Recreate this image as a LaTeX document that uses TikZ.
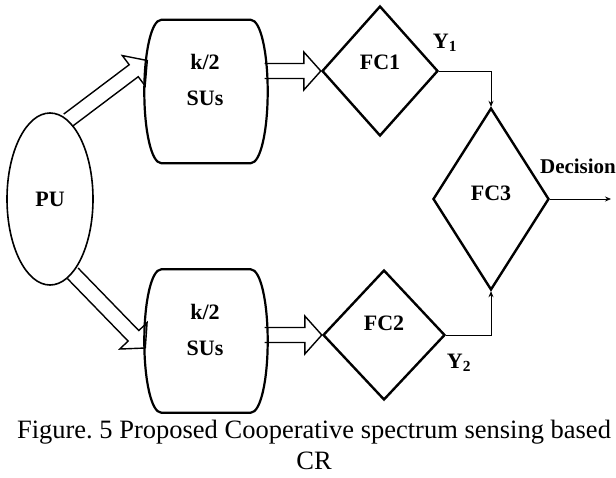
\documentclass[tikz,border=0pt]{standalone}
\usepackage{fontspec}
\setmainfont{Liberation Serif}
\usetikzlibrary{shapes.geometric,calc,arrows.meta}

\newcommand{\fatarrow}[2]{%
  \draw[fat] ($(#1)!7.5pt!90:(#2)$)
    -- ($($(#2)!17pt!(#1)$)!7.5pt!90:(#2)$)
    -- ($($(#2)!17pt!(#1)$)!19pt!90:(#2)$)
    -- (#2)
    -- ($($(#2)!17pt!(#1)$)!19pt!-90:(#2)$)
    -- ($($(#2)!17pt!(#1)$)!7.5pt!-90:(#2)$)
    -- ($(#1)!7.5pt!-90:(#2)$);}

\newcommand{\barrel}[1]{%
  \draw[box] ($(#1.north west)+(17,0)$) -- ($(#1.north east)+(-17,0)$)
    .. controls ($(#1.north east)+(-7,0)$) and ($(#1.east)+(0,39)$) .. (#1.east)
    .. controls ($(#1.east)+(0,-39)$) and ($(#1.south east)+(-7,0)$) .. ($(#1.south east)+(-17,0)$)
    -- ($(#1.south west)+(17,0)$)
    .. controls ($(#1.south west)+(7,0)$) and ($(#1.west)+(0,-39)$) .. (#1.west)
    .. controls ($(#1.west)+(0,39)$) and ($(#1.north west)+(7,0)$) .. cycle;}

\tikzset{
  lbl/.style={font=\fontsize{22}{26}\selectfont\bfseries, inner sep=0pt},
  captext/.style={font=\fontsize{26.5}{30}\selectfont, inner sep=0pt},
  box/.style={line width=2.2pt},
  fat/.style={line width=1.4pt, line join=miter},
  diam/.style={diamond, draw, line width=2.4pt, inner sep=0pt},
  sunit/.style={rectangle, inner sep=0pt, minimum width=123, minimum height=143},
  conn/.style={line width=0.8pt, -{Stealth[length=6pt,width=5pt]}}
}

\begin{document}
\frenchspacing
\begin{tikzpicture}[x=1pt,y=1pt]
	\useasboundingbox (0,0) rectangle (616,-477);
	\node[ellipse, draw, line width=1.6pt, minimum width=86, minimum height=172, lbl] (pu) at (50,-199) {PU};
	\node[sunit] (su1) at (206,-91.5) {};
	\node[sunit] (su2) at (206,-341) {};
	\barrel{su1}
	\barrel{su2}
	\node[lbl] (k1) at (205,-62) {k/2};
	\node[lbl] (s1) at (205,-98) {SUs};
	\node[lbl] (k2) at (205,-312) {k/2};
	\node[lbl] (s2) at (205,-348) {SUs};
	\node[diam, minimum width=116, minimum height=130] (fc1) at (380,-71) {};
	\node[diam, minimum width=122, minimum height=130] (fc2) at (384,-335) {};
	\node[diam, minimum width=116, minimum height=182] (fc3) at (491,-199) {};
	\node[lbl] (f1) at (380,-62) {FC1};
	\node[lbl] (f2) at (384,-323) {FC2};
	\node[lbl] (f3) at (491,-193) {FC3};
	\node[lbl] (y1) at (445,-43) {Y\textsubscript{1}};
	\node[lbl] (y2) at (459,-363) {Y\textsubscript{2}};
	\node[lbl, font=\fontsize{21}{24}\selectfont\bfseries] (dec) at (578,-166) {Decision};
	\coordinate (in1) at ($(su1.west)+(3,31)$);
	\coordinate (in2) at ($(su2.west)+(1,-7)$);
	\coordinate (o1) at ($(su1.east |- fc1.west)+(-3,0)$);
	\coordinate (o2) at ($(su2.east |- fc2.west)+(-3,0)$);
	\coordinate (out) at (611,-199);
	\fatarrow{pu.77}{in1}
	\fatarrow{pu.-73}{in2}
	\fatarrow{o1}{fc1.west}
	\fatarrow{o2}{fc2.west}
	\draw[conn] (fc1.east) -| (fc3.north);
	\draw[conn] (fc2.east) -| (fc3.south);
	\draw[conn] (fc3.east) -- (out);
	\node[captext] (cap1) at (314,-432) {Figure. 5 Proposed Cooperative spectrum sensing based};
	\node[captext] (cap2) at (314,-461) {CR};
\end{tikzpicture}
\end{document}
